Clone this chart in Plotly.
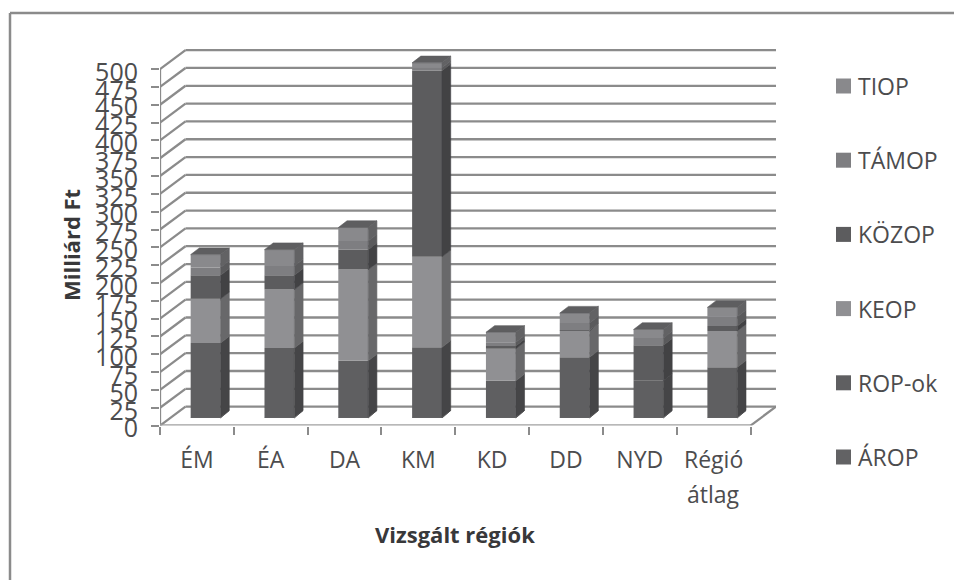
import plotly.graph_objects as go

# Regional funding by operational programme (billion HUF)
regions = ["ÉM", "ÉA", "DA", "KM", "KD", "DD", "NYD", "Régió"]
series_names = ["ÁROP", "ROP-ok", "KEOP", "KÖZOP", "TÁMOP", "TIOP"]
arop = [1, 1, 1, 1, 1, 1, 1, 1]
rop = [104, 97, 79, 98, 51, 84, 51, 70]
keop = [62, 82, 128, 127, 45, 37, 0, 51]
kozop = [33, 20, 28, 261, 4, 1, 50, 7]
tamop = [11, 13, 12, 4, 5, 10, 10, 13]
tiop = [18, 23, 19, 7, 14, 14, 12, 13]
value_ticks = list(range(0, 501, 25))

series_values = [arop, rop, keop, kozop, tamop, tiop]
front_colors = ["#626264", "#5f5f61", "#909093", "#5c5c5e", "#7e7e81", "#89898c"]
side_colors = ["#454547", "#454547", "#68686a", "#424244", "#5a5a5c", "#626264"]
top_color = "#5e5e60"

GRID = "#8b8b8b"
TEXT = "#4c4c4e"
TITLE = "#38383a"
FONT = "Open Sans"

# Pseudo-3D projection expressed in axis units
WALL_DX, WALL_DY = 0.345, 26.6      # offset of the back wall from the front plane
BAR_SHIFT_X, BAR_SHIFT_Y = 0.118, 10.8  # bar front face inside the floor
BAR_DX, BAR_DY = 0.118, 9.4         # bar depth
BAR_WIDTH = 0.405
LABEL_DROP = 4.2                    # value labels sit slightly below their tick marks
Y_MAX = 533.8
N = len(regions)

W, H = 954, 580
PLOT_TOP, PLOT_BOTTOM = 45, 425.6
LABEL_EXTRA = 14                    # extra axis units below zero so the "0" label stays in range
PX_PER_UNIT = (PLOT_BOTTOM - PLOT_TOP) / Y_MAX

fig = go.Figure()

# Walls and floor go underneath the columns
shapes = []
def line(x0, y0, x1, y1, xref="x", yref="y", width=2.3, color=GRID):
    shapes.append(dict(type="line", xref=xref, yref=yref, x0=x0, y0=y0, x1=x1, y1=y1,
                       layer="below", line=dict(color=color, width=width)))

for v in value_ticks:
    line(0, v, WALL_DX, v + WALL_DY)
    line(WALL_DX, v + WALL_DY, N + WALL_DX, v + WALL_DY)
line(0, 0, 0, value_ticks[-1])
line(0, 0, N, 0, width=2.5, color="#a0a0a0")
line(N, 0, N + WALL_DX, WALL_DY)

# Chart frame
line(10 / W, 0, 10 / W, 1 - 13 / H, xref="paper", yref="paper", width=2.5)
line(10 / W, 1 - 13 / H, 1, 1 - 13 / H, xref="paper", yref="paper", width=2.5)

centers = [i + 0.5 + BAR_SHIFT_X for i in range(N)]
bases = [BAR_SHIFT_Y] * N
side_polys = []
for name, values, color, side in zip(series_names, series_values, front_colors, side_colors):
    fig.add_trace(go.Bar(x=centers, y=values, base=list(bases), width=BAR_WIDTH, name=name,
                         marker=dict(color=color, line=dict(width=0)), showlegend=False))
    sx, sy = [], []
    for c, b, v in zip(centers, bases, values):
        if v == 0:
            continue
        r = c + BAR_WIDTH / 2
        sx += [r, r + BAR_DX, r + BAR_DX, r, r, None]
        sy += [b, b + BAR_DY, b + v + BAR_DY, b + v, b, None]
    side_polys.append((sx, sy, side))
    bases = [b + v for b, v in zip(bases, values)]

# A hairline in the fill colour closes the seams between neighbouring side faces
for sx, sy, side in side_polys:
    fig.add_trace(go.Scatter(x=sx, y=sy, mode="lines", fill="toself", fillcolor=side,
                             line=dict(width=0.6, color=side), showlegend=False, hoverinfo="skip"))

# Column caps
tx, ty = [], []
for c, t in zip(centers, bases):
    l, r = c - BAR_WIDTH / 2, c + BAR_WIDTH / 2
    tx += [l, r, r + BAR_DX, l + BAR_DX, l, None]
    ty += [t, t, t + BAR_DY, t + BAR_DY, t, None]
fig.add_trace(go.Scatter(x=tx, y=ty, mode="lines", fill="toself", fillcolor=top_color,
                         line=dict(width=0.6, color=top_color), showlegend=False, hoverinfo="skip"))

# Empty trace that activates the separate axis carrying the value labels
fig.add_trace(go.Scatter(x=[None], y=[None], yaxis="y2", mode="lines",
                         showlegend=False, hoverinfo="skip"))

annotations = [
    dict(text="<b>Milliárd Ft</b>", xref="paper", yref="paper", x=71 / W, y=1 - 245 / H,
         xanchor="center", yanchor="middle", textangle=-90, showarrow=False,
         font=dict(size=22, color=TITLE)),
    dict(text="<b>Vizsgált régiók</b>", xref="paper", yref="paper", x=455 / W, y=1 - 534 / H,
         xanchor="center", yanchor="middle", showarrow=False, font=dict(size=22, color=TITLE)),
    dict(text="átlag", xref="x", yref="paper", x=7.5, y=1 - 494 / H,
         xanchor="center", yanchor="middle", showarrow=False, font=dict(size=23, color=TEXT)),
]

# Key on the right, top entry is the top of the stack
for rank, (name, color) in enumerate(zip(reversed(series_names), reversed(front_colors))):
    cy = 86 + rank * 74.2
    shapes.append(dict(type="rect", xref="paper", yref="paper", x0=836 / W, x1=851 / W,
                       y0=1 - (cy + 7.5) / H, y1=1 - (cy - 7.5) / H,
                       fillcolor=color, line=dict(width=0)))
    annotations.append(dict(text=name, xref="paper", yref="paper", x=856 / W, y=1 - cy / H,
                            xanchor="left", yanchor="middle", showarrow=False,
                            font=dict(size=23, color=TEXT)))

fig.update_layout(
    width=W, height=H, margin=dict(l=0, r=0, t=0, b=0, autoexpand=False),
    paper_bgcolor="white", plot_bgcolor="rgba(0,0,0,0)", barmode="overlay", showlegend=False,
    font=dict(family=FONT, size=20, color=TEXT), shapes=shapes, annotations=annotations,
    xaxis=dict(
        domain=[160 / W, 776 / W], range=[0, N + WALL_DX], showgrid=False, zeroline=False,
        tickmode="array", tickvals=[i + 0.5 for i in range(N)], ticktext=regions,
        ticks="", ticklabelstandoff=18, tickangle=0, tickfont=dict(size=23, color=TEXT),
        minor=dict(tickmode="array", tickvals=list(range(N + 1)), ticks="outside",
                   ticklen=8, tickwidth=2, tickcolor=GRID, showgrid=False),
    ),
    yaxis=dict(
        domain=[1 - PLOT_BOTTOM / H, 1 - PLOT_TOP / H], range=[0, Y_MAX], showgrid=False,
        zeroline=False, tickmode="array", tickvals=value_ticks, ticks="outside", ticklen=8,
        tickwidth=2, tickcolor=GRID, showticklabels=False,
    ),
    yaxis2=dict(
        domain=[1 - (PLOT_BOTTOM + LABEL_EXTRA * PX_PER_UNIT) / H, 1 - PLOT_TOP / H],
        range=[LABEL_DROP - LABEL_EXTRA, Y_MAX + LABEL_DROP], side="left",
        anchor="x", showgrid=False, zeroline=False, tickmode="array", tickvals=value_ticks,
        ticks="", ticklabelstandoff=21, tickfont=dict(size=25, color=TEXT),
    ),
)

fig.write_html("out.html")
